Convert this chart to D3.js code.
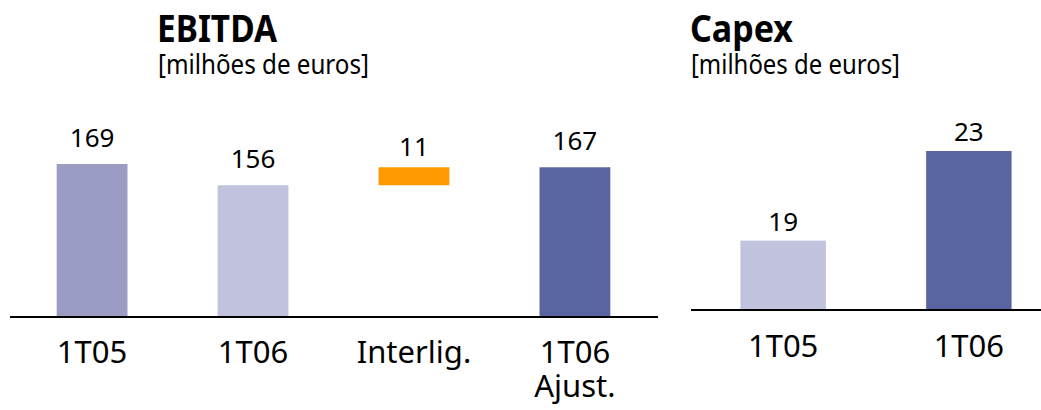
<!DOCTYPE html>
<html>
<head>
<meta charset="utf-8">
<script src="https://cdn.jsdelivr.net/npm/d3@7.9.0/dist/d3.min.js"></script>
<style>
  body { margin: 0; background: #fff; }
  svg { display: block; font-family: "Noto Sans", "Open Sans", sans-serif; }
</style>
</head>
<body>
<div id="chart"></div>
<script>
// EBITDA panel
const ebitdaCategories = ["1T05", "1T06", "Interlig.", "1T06\nAjust."];
const ebitdaStart = [0, 0, 156, 0];
const ebitdaValues = [169, 156, 167, 167];
const ebitdaLabels = ["169", "156", "11", "167"];
const ebitdaColors = ["#9a9cc4", "#c0c2de", "#ff9900", "#5865a0"];

// Capex panel
const capexCategories = ["1T05", "1T06"];
const capexValues = [19, 23];
const capexColors = ["#c0c2de", "#5865a0"];

const width = 1041;
const height = 410;

const svg = d3.select('#chart')
  .append('svg')
  .attr('width', width)
  .attr('height', height);

function drawPanel(opts) {
  const g = svg.append('g');

  const xScale = d3.scaleBand()
    .domain(opts.categories)
    .range(opts.xRange)
    .paddingInner(opts.padInner)
    .paddingOuter(opts.padOuter);

  // the source chart uses a cut value axis, so the domain does not start at 0
  const yScale = d3.scaleLinear()
    .domain(opts.yDomain)
    .range(opts.yRange);

  const bars = opts.categories.map((c, i) => ({
    cat: c,
    start: opts.start ? Math.max(opts.start[i], opts.yDomain[0]) : opts.yDomain[0],
    value: opts.values[i],
    label: opts.labels ? opts.labels[i] : String(opts.values[i]),
    color: opts.colors[i],
    floating: opts.start ? opts.start[i] > 0 : false
  }));

  g.selectAll('rect')
    .data(bars)
    .join('rect')
    .attr('x', d => xScale(d.cat))
    .attr('width', xScale.bandwidth())
    .attr('y', d => yScale(d.value))
    .attr('height', d => yScale(d.start) - yScale(d.value))
    .attr('fill', d => d.color);

  g.selectAll('text.value')
    .data(bars)
    .join('text')
    .attr('class', 'value')
    .attr('x', d => xScale(d.cat) + xScale.bandwidth() / 2)
    .attr('y', d => yScale(d.value) - (d.floating ? 11 : opts.labelGap))
    .attr('text-anchor', 'middle')
    .attr('font-size', 26)
    .attr('fill', '#000')
    .text(d => d.label);

  // baseline
  g.append('line')
    .attr('x1', opts.axisX[0])
    .attr('x2', opts.axisX[1])
    .attr('y1', yScale(opts.yDomain[0]) + 1)
    .attr('y2', yScale(opts.yDomain[0]) + 1)
    .attr('stroke', '#000')
    .attr('stroke-width', 2);

  // category labels (may span two lines)
  const cats = g.selectAll('text.cat')
    .data(opts.categories)
    .join('text')
    .attr('class', 'cat')
    .attr('text-anchor', 'middle')
    .attr('font-size', 31)
    .attr('fill', '#000')
    .attr('x', d => xScale(d) + xScale.bandwidth() / 2)
    .attr('y', opts.catY);

  cats.selectAll('tspan')
    .data(d => d.split('\n').map(t => ({ t, x: xScale(d) + xScale.bandwidth() / 2 })))
    .join('tspan')
    .attr('x', d => d.x)
    .attr('dy', (d, i) => i === 0 ? 0 : 34)
    .text(d => d.t);

  // titles (the original face is narrower, so squeeze to its width)
  g.append('text')
    .attr('x', opts.titleX)
    .attr('y', 42)
    .attr('font-size', 37)
    .attr('font-weight', 'bold')
    .attr('fill', '#000')
    .attr('textLength', opts.titleW)
    .attr('lengthAdjust', 'spacingAndGlyphs')
    .text(opts.title);

  g.append('text')
    .attr('x', opts.titleX + 1)
    .attr('y', 74)
    .attr('font-size', 28)
    .attr('fill', '#000')
    .attr('textLength', opts.subW)
    .attr('lengthAdjust', 'spacingAndGlyphs')
    .text('[milhões de euros]');
}

drawPanel({
  title: 'EBITDA',
  titleX: 157,
  titleW: 120,
  subW: 211,
  categories: ebitdaCategories,
  start: ebitdaStart,
  values: ebitdaValues,
  labels: ebitdaLabels,
  colors: ebitdaColors,
  xRange: [10, 657],
  padInner: 0.56,
  padOuter: 0.29,
  yDomain: [76, 169],
  yRange: [316, 164],
  axisX: [10, 658],
  labelGap: 17,
  catY: 363
});

drawPanel({
  title: 'Capex',
  titleX: 690,
  titleW: 103,
  subW: 209,
  categories: capexCategories,
  values: capexValues,
  colors: capexColors,
  xRange: [694, 1058],
  padInner: 0.54,
  padOuter: 0.25,
  yDomain: [15.95, 23],
  yRange: [309, 151],
  axisX: [691, 1041],
  labelGap: 10,
  catY: 357
});
</script>
</body>
</html>
